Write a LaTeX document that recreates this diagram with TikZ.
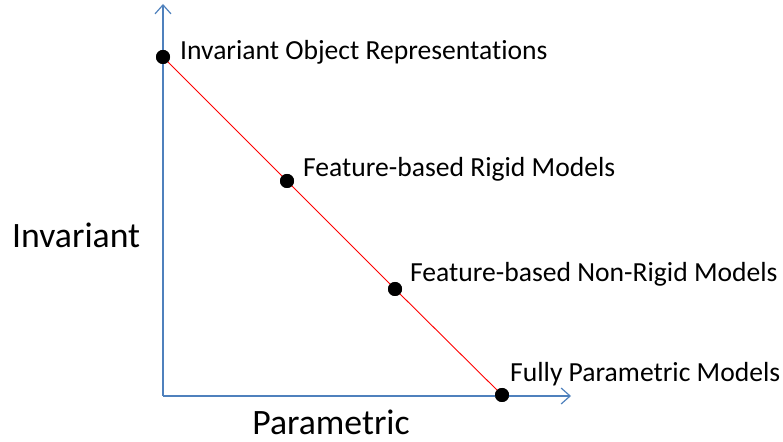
\documentclass[tikz,border=0pt]{standalone}
\usepackage{fontspec}
\setmainfont{Carlito}[Ligatures=NoCommon]
\usetikzlibrary{arrows.meta}
\definecolor{axisblue}{RGB}{79,129,189}
\tikzset{
  axis/.style={draw=axisblue, line width=1.2pt, -{Straight Barb[length=9pt,width=16pt]}},
  pt/.style={circle, fill=black, inner sep=0pt, minimum size=14pt},
  lbl/.style={anchor=base west, inner sep=0pt, font=\fontsize{27.6}{30}\selectfont},
  big/.style={inner sep=0pt, font=\fontsize{35.7}{40}\selectfont}
}
\begin{document}
\begin{tikzpicture}[x=1pt,y=1pt]
                \useasboundingbox (0,0) rectangle (783,441);
                \coordinate (O) at (163,45);
                \coordinate (Y) at (163,437);
                \coordinate (X) at (571,45);
                \node [pt] (A) at (163,384) {};
                \node [pt] (B) at (287,260) {};
                \node [pt] (C) at (395,152) {};
                \node [pt] (D) at (502,46) {};
                \draw [axis] (O) -- (Y);
                \draw [axis] (O) -- (X);
                \draw [red, line width=0.9pt] (A.center) -- (B.center) -- (C.center) -- (D.center);
                \node [pt] at (A) {};
                \node [pt] at (B) {};
                \node [pt] at (C) {};
                \node [pt] at (D) {};
                \node [lbl] (a) at (180,381) {Invariant Object Representations};
                \node [lbl] (b) at (303,264) {Feature-based Rigid Models};
                \node [lbl] (c) at (410,159) {Feature-based Non-Rigid Models};
                \node [lbl] (d) at (510,59) {Fully Parametric Models};
                \node [big, anchor=base west] (inv) at (12,193) {Invariant};
                \node [big, anchor=base] (par) at (331,6) {Parametric};
            \end{tikzpicture}
\end{document}
